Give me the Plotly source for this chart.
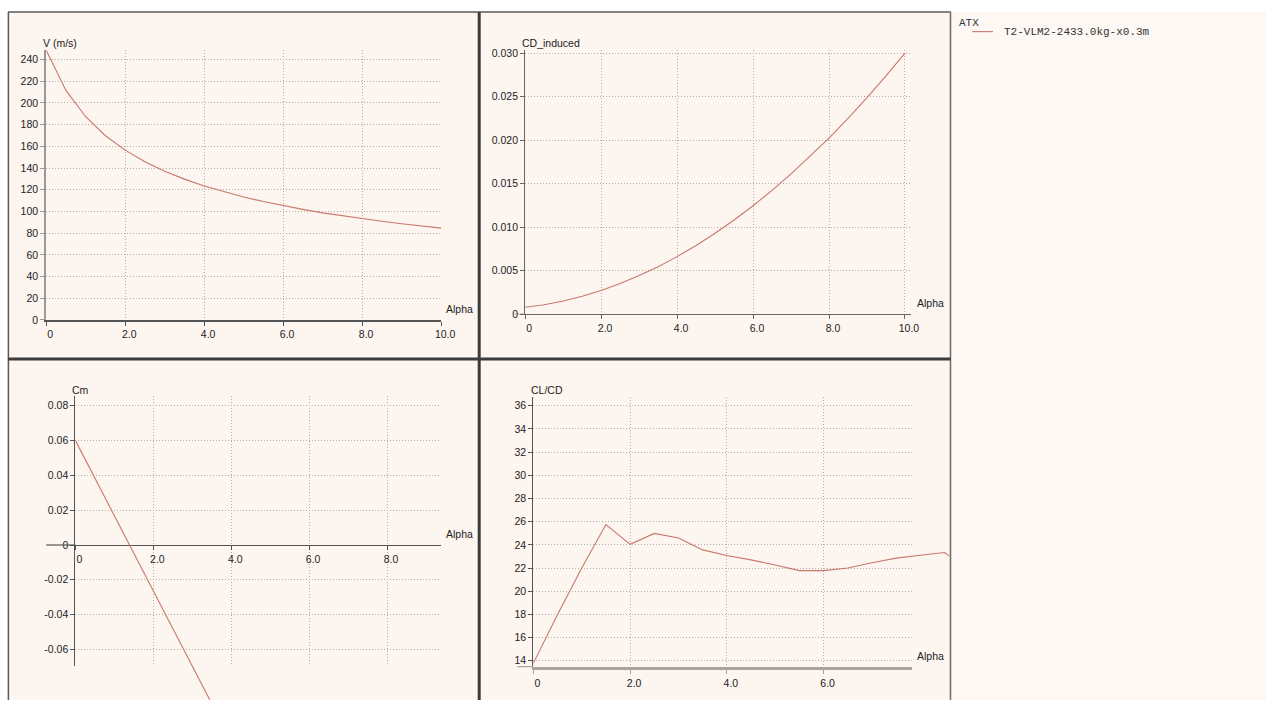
import plotly.graph_objects as go

# ---- data -------------------------------------------------------------
ALPHA = [0.0, 0.5, 1.0, 1.5, 2.0, 2.5, 3.0, 3.5, 4.0, 4.5, 5.0,
         5.5, 6.0, 6.5, 7.0, 7.5, 8.0, 8.5, 9.0, 9.5, 10.0]

V_MS = [248.7, 211.6, 187.3, 169.8, 156.5, 145.8, 137.1, 129.8, 123.5, 118.1, 113.3,
        109.1, 105.3, 101.9, 98.7, 95.9, 93.3, 90.9, 88.6, 86.6, 84.6]

CD_INDUCED = [0.00080, 0.00110, 0.00152, 0.00207, 0.00274, 0.00353, 0.00444, 0.00547,
              0.00662, 0.00790, 0.00930, 0.01082, 0.01246, 0.01423, 0.01612, 0.01813,
              0.02024, 0.02251, 0.02488, 0.02738, 0.03000]

CM = [0.0600, 0.0384, 0.0168, -0.0048, -0.0264, -0.0480, -0.0696, -0.0912, -0.1128,
      -0.1344, -0.1560, -0.1776, -0.1992, -0.2208, -0.2424, -0.2640, -0.2856, -0.3072,
      -0.3288, -0.3504, -0.3720]

ALPHA_CLCD = [0.0, 0.5, 1.0, 1.5, 2.0, 2.5, 3.0, 3.5, 4.0, 4.5,
              5.0, 5.5, 6.0, 6.5, 7.0, 7.5, 8.0, 8.5, 9.0]
CL_CD = [13.8, 18.0, 22.0, 25.75, 24.05, 24.99, 24.6, 23.57, 23.08, 22.71,
         22.26, 21.78, 21.78, 22.0, 22.46, 22.86, 23.11, 23.34, 21.9]

POLAR_GROUP = "ATX"
SERIES_NAME = "T2-VLM2-2433.0kg-x0.3m"

X_TICKS_10 = [0, 2, 4, 6, 8, 10]
X_TEXT_10 = ["0", "2.0", "4.0", "6.0", "8.0", "10.0"]
V_TICKS = list(range(0, 241, 20))
CD_TICKS = [0, 0.005, 0.010, 0.015, 0.020, 0.025, 0.030]
CD_TEXT = ["0", "0.005", "0.010", "0.015", "0.020", "0.025", "0.030"]
CM_TICKS = [-0.06, -0.04, -0.02, 0, 0.02, 0.04, 0.06, 0.08]
CM_TEXT = ["-0.06", "-0.04", "-0.02", "0", "0.02", "0.04", "0.06", "0.08"]
CLCD_TICKS = list(range(14, 37, 2))

# ---- page geometry ----------------------------------------------------
W, H = 1280, 706
LINE_COLOR = "#C9786C"
PANEL_BG = "#FDF5F0"
SIDE_BG = "#FEF8F5"
GRID = "#B3ADA9"
GRID_DASH = "1px,2px"
FONT = "Liberation Sans"
TICK_FONT = dict(family=FONT, size=10.5, color="#222222")


def dom(v_a, p_a, v_b, p_b, lo, hi, vertical):
    """Paper-domain of an axis whose value/pixel calibration is given by two points."""
    k = (p_b - p_a) / (v_b - v_a)
    p_lo = p_a + (lo - v_a) * k
    p_hi = p_a + (hi - v_a) * k
    if vertical:
        return [1 - p_lo / H, 1 - p_hi / H]
    return [p_lo / W, p_hi / W]


def px(x):
    return x / W


def py(y):
    return 1 - y / H


def axis(domain, rng, tickvals, ticktext, line_color="#606060", line_width=1.2, **kw):
    d = dict(domain=domain, range=rng, tickvals=tickvals, ticktext=ticktext,
             showline=True, linecolor=line_color, linewidth=line_width,
             ticks="outside", ticklen=4, tickcolor=line_color, tickwidth=1,
             showgrid=True, gridcolor=GRID, griddash=GRID_DASH, gridwidth=1,
             zeroline=False, tickfont=TICK_FONT, fixedrange=True)
    d.update(kw)
    return d


def xaxis(*a, **kw):
    kw.setdefault("ticklabelshift", 4)
    return axis(*a, **kw)


def yaxis(*a, **kw):
    return axis(*a, **kw)


hidden = dict(visible=False, showgrid=False, zeroline=False, fixedrange=True)

# axis ranges
TL_X = [0, 10]
TL_Y = [0, 248.7]
TR_X = [0, 10.17]
TR_Y = [0, 0.03033]
BL_X = [0, 9.38]
BL_Y = [-0.0696, 0.0857]
BL_Y_EXT = [-0.0890, 0.0857]
BR_X = [0, 7.83]
BR_X_EXT = [0, 8.60]
BR_Y = [13.45, 36.8]

# pixel calibrations (value_a, px_a, value_b, px_b)
TL_XC = (0, 46.7, 10, 446.0)
TL_YC = (0, 321.0, 240, 57.3)
TR_XC = (0, 531.0, 10, 915.0)
TR_YC = (0, 315.3, 0.03, 50.7)
BL_XC = (0, 76.3, 8, 391.3)
BL_YC = (0, 549.0, 0.08, 408.0)
BR_XC = (0, 539.3, 6, 832.7)
BR_YC = (14, 666.3, 36, 408.0)

fig = go.Figure()

line = dict(color=LINE_COLOR, width=1.1)
fig.add_trace(go.Scatter(x=ALPHA, y=V_MS, mode="lines", line=line, name=SERIES_NAME,
                         xaxis="x", yaxis="y", hoverinfo="skip"))
fig.add_trace(go.Scatter(x=ALPHA, y=CD_INDUCED, mode="lines", line=line, name=SERIES_NAME,
                         xaxis="x2", yaxis="y2", hoverinfo="skip"))
# empty traces keep the framed axes of the lower panels alive
fig.add_trace(go.Scatter(x=[], y=[], xaxis="x3", yaxis="y3", showlegend=False))
fig.add_trace(go.Scatter(x=[], y=[], xaxis="x4", yaxis="y4", showlegend=False))
# lower-panel curves run on twin axes so they may leave the framed axis box
fig.add_trace(go.Scatter(x=ALPHA, y=CM, mode="lines", line=line, name=SERIES_NAME,
                         xaxis="x5", yaxis="y5", hoverinfo="skip"))
fig.add_trace(go.Scatter(x=ALPHA_CLCD, y=CL_CD, mode="lines", line=line, name=SERIES_NAME,
                         xaxis="x6", yaxis="y6", hoverinfo="skip"))

bl_zero_pos = py(BL_YC[1])

fig.update_layout(
    width=W, height=H, margin=dict(l=0, r=0, t=0, b=0),
    paper_bgcolor="white", plot_bgcolor="rgba(0,0,0,0)",
    showlegend=False,
    xaxis=xaxis(dom(*TL_XC, *TL_X, False), TL_X, X_TICKS_10, X_TEXT_10,
                line_color="#555555", line_width=1.5, anchor="y"),
    yaxis=yaxis(dom(*TL_YC, *TL_Y, True), TL_Y, V_TICKS, [str(v) for v in V_TICKS],
                line_color="#9a9a9a", line_width=2, anchor="x"),
    xaxis2=xaxis(dom(*TR_XC, *TR_X, False), TR_X, X_TICKS_10, X_TEXT_10,
                 line_color="#666666", anchor="y2"),
    yaxis2=yaxis(dom(*TR_YC, *TR_Y, True), TR_Y, CD_TICKS, CD_TEXT,
                 line_color="#666666", anchor="x2"),
    xaxis3=xaxis(dom(*BL_XC, *BL_X, False), BL_X, X_TICKS_10[:5], X_TEXT_10[:5],
                 line_color="#555555", anchor="free", position=bl_zero_pos),
    yaxis3=yaxis(dom(*BL_YC, *BL_Y, True), BL_Y, CM_TICKS, CM_TEXT,
                 line_color="#555555", anchor="x3"),
    xaxis4=xaxis(dom(*BR_XC, *BR_X, False), BR_X, X_TICKS_10[:4], X_TEXT_10[:4],
                 line_color="#a8a4a2", line_width=2.5, anchor="y4"),
    yaxis4=yaxis(dom(*BR_YC, *BR_Y, True), BR_Y, CLCD_TICKS, [str(v) for v in CLCD_TICKS],
                 line_color="#555555", anchor="x4"),
    xaxis5=dict(hidden, domain=dom(*BL_XC, *BL_X, False), range=BL_X, anchor="y5"),
    yaxis5=dict(hidden, domain=dom(*BL_YC, *BL_Y_EXT, True), range=BL_Y_EXT, anchor="x5"),
    xaxis6=dict(hidden, domain=dom(*BR_XC, *BR_X_EXT, False), range=BR_X_EXT, anchor="y6"),
    yaxis6=dict(hidden, domain=dom(*BR_YC, *BR_Y, True), range=BR_Y, anchor="x6"),
)

shapes = []
# panel backgrounds
shapes.append(dict(type="rect", xref="paper", yref="paper", x0=px(8), x1=px(961),
                   y0=0, y1=py(9), fillcolor=PANEL_BG, line=dict(width=0), layer="below"))
shapes.append(dict(type="rect", xref="paper", yref="paper", x0=px(961), x1=1,
                   y0=0, y1=py(9), fillcolor=SIDE_BG, line=dict(width=0), layer="below"))
# x-axis stubs left of the y-axis
shapes.append(dict(type="line", xref="paper", yref="y2", x0=px(520), x1=px(531), y0=0, y1=0,
                   line=dict(color="#666666", width=1.2)))
shapes.append(dict(type="line", xref="paper", yref="y3", x0=px(46.7), x1=px(76.3), y0=0, y1=0,
                   line=dict(color="#555555", width=1.2)))
shapes.append(dict(type="line", xref="paper", yref="y4", x0=px(523.3), x1=px(539.3),
                   y0=BR_Y[0], y1=BR_Y[0], line=dict(color="#a8a4a2", width=2.5)))
# frame and separators
shapes.append(dict(type="line", xref="paper", yref="paper", x0=px(8.5), x1=px(8.5), y0=0, y1=py(9),
                   line=dict(color="#5a5a5a", width=1.5), layer="above"))
shapes.append(dict(type="line", xref="paper", yref="paper", x0=px(8), x1=px(961.5), y0=py(9), y1=py(9),
                   line=dict(color="#5a5a5a", width=1.5), layer="above"))
shapes.append(dict(type="line", xref="paper", yref="paper", x0=px(961), x1=px(961), y0=0, y1=py(9),
                   line=dict(color="#6a6a6a", width=1.5), layer="above"))
shapes.append(dict(type="line", xref="paper", yref="paper", x0=px(484.5), x1=px(484.5), y0=0, y1=py(9),
                   line=dict(color="#3c3c3c", width=3), layer="above"))
shapes.append(dict(type="line", xref="paper", yref="paper", x0=px(8), x1=px(961), y0=py(360.5), y1=py(360.5),
                   line=dict(color="#3c3c3c", width=3), layer="above"))
# legend sample line
shapes.append(dict(type="line", xref="paper", yref="paper", x0=px(983), x1=px(1004), y0=py(29), y1=py(29),
                   line=dict(color=LINE_COLOR, width=1.1)))
fig.update_layout(shapes=shapes)

title_font = dict(family=FONT, size=10.5, color="#222222")
mono_font = dict(family="Liberation Mono", size=11, color="#333333")


def label(text, x, y, font=title_font):
    return dict(text=text, xref="paper", yref="paper", x=px(x), y=py(y),
                xanchor="left", yanchor="middle", showarrow=False, font=font)


fig.update_layout(annotations=[
    label("V (m/s)", 41, 41),
    label("Alpha", 449, 310),
    label("CD_induced", 526, 41),
    label("Alpha", 925, 304),
    label("Cm", 71, 392),
    label("Alpha", 449, 538),
    label("CL/CD", 535, 392),
    label("Alpha", 925, 661),
    label(POLAR_GROUP, 968, 20, mono_font),
    label(SERIES_NAME, 1013, 29, mono_font),
])

fig.write_html(
    "out.html",
    post_script="document.body.style.margin='0';document.body.style.overflow='hidden';",
)
